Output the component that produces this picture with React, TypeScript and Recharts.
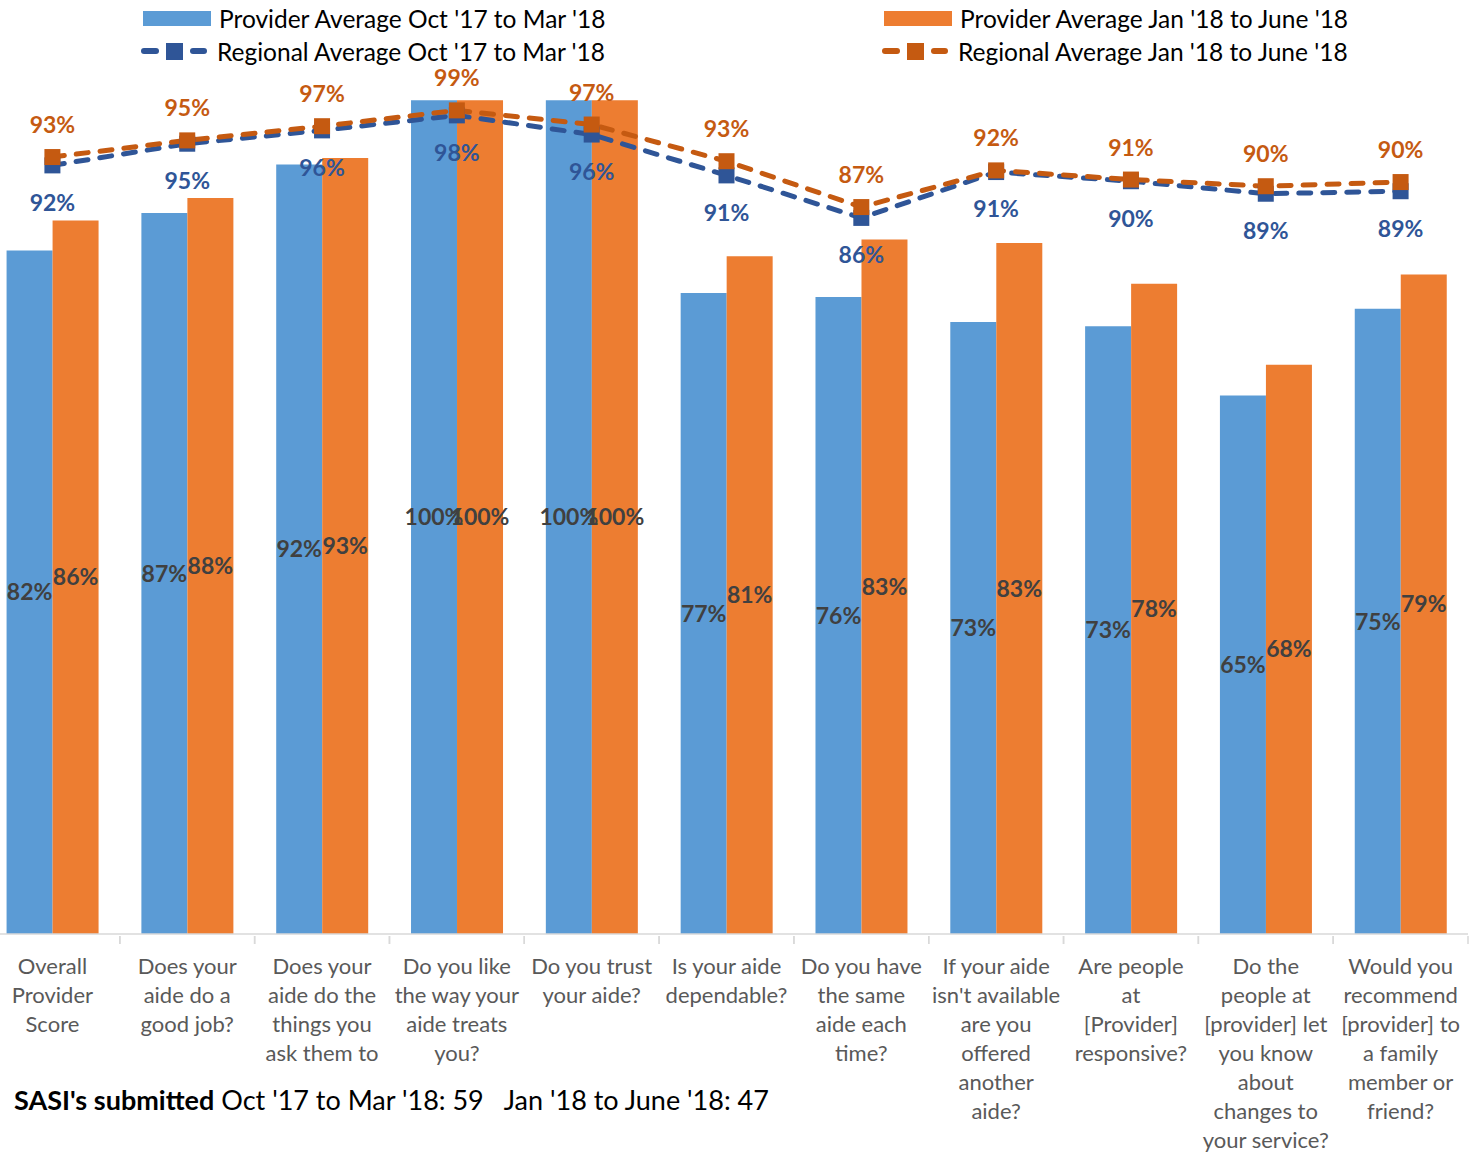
import React from "react";
import { ComposedChart, Bar, Line, XAxis, YAxis, LabelList } from "recharts";

const categories = [
  "Overall\nProvider\nScore",
  "Does your\naide do a\ngood job?",
  "Does your\naide do the\nthings you\nask them to",
  "Do you like\nthe way your\naide treats\nyou?",
  "Do you trust\nyour aide?",
  "Is your aide\ndependable?",
  "Do you have\nthe same\naide each\ntime?",
  "If your aide\nisn't available\nare you\noffered\nanother\naide?",
  "Are people\nat\n[Provider]\nresponsive?",
  "Do the\npeople at\n[provider] let\nyou know\nabout\nchanges to\nyour service?",
  "Would you\nrecommend\n[provider] to\na family\nmember or\nfriend?",
];

const providerOct = [82, 86.5, 92.3, 100, 100, 76.9, 76.4, 73.4, 72.9, 64.6, 75];
const providerJan = [85.6, 88.3, 93.1, 100, 100, 81.3, 83.3, 82.9, 78, 68.3, 79.1];
const regionalOct = [92.2, 94.8, 96.4, 98.2, 95.9, 91, 85.9, 91.4, 90.3, 88.8, 89.1];
const regionalJan = [93.2, 95.2, 96.9, 98.8, 97.1, 92.7, 87.2, 91.6, 90.5, 89.7, 90.2];

const data = categories.map((name, i) => ({
  name,
  providerOct: providerOct[i],
  providerJan: providerJan[i],
  regionalOct: regionalOct[i],
  regionalJan: regionalJan[i],
}));

const FONT = "Lato, 'Open Sans', sans-serif";
const BLUE = "#5B9BD5";
const ORANGE = "#ED7D31";
const DARK_BLUE = "#2F5597";
const DARK_ORANGE = "#C55A11";

const CHART_W = 1490;
const MARGIN = { top: 17, right: 7, bottom: 10, left: 0 };
const BAND = (CHART_W - MARGIN.left - MARGIN.right) / categories.length;

const pct = (v: any) => `${Math.round(Number(v))}%`;

const SquareDot = (props: any) => {
  const { cx, cy, fill } = props;
  if (cx == null || cy == null) return null;
  return <rect x={cx - 8} y={cy - 8} width={16} height={16} fill={fill} />;
};

const CategoryTick = (props: any) => {
  const { x, y, payload } = props;
  const lines = String(payload.value).split("\n");
  return (
    <g>
      <line x1={x - BAND / 2} x2={x - BAND / 2} y1={y} y2={y + 8} stroke="#D9D9D9" strokeWidth={1.5} />
      <line x1={x + BAND / 2} x2={x + BAND / 2} y1={y} y2={y + 8} stroke="#D9D9D9" strokeWidth={1.5} />
      <text x={x} y={y} textAnchor="middle" fill="#595959" fontSize={22} fontFamily={FONT}>
        {lines.map((l, i) => (
          <tspan key={i} x={x} dy={i === 0 ? 38 : 29}>
            {l}
          </tspan>
        ))}
      </text>
    </g>
  );
};

const LineIcon = ({ color }: { color: string }) => (
  <svg width={66} height={20} style={{ display: "block" }}>
    <line x1={3} x2={15} y1={10} y2={10} stroke={color} strokeWidth={6} strokeLinecap="round" />
    <rect x={25} y={2} width={17} height={17} fill={color} />
    <line x1={52} x2={63} y1={10} y2={10} stroke={color} strokeWidth={6} strokeLinecap="round" />
  </svg>
);

const legendItems = [
  { label: "Provider Average Oct '17 to Mar '18", kind: "bar", color: BLUE, left: 143, top: 4 },
  { label: "Regional Average Oct '17 to Mar '18", kind: "line", color: DARK_BLUE, left: 141, top: 37 },
  { label: "Provider Average Jan '18 to June '18", kind: "bar", color: ORANGE, left: 884, top: 4 },
  { label: "Regional Average Jan '18 to June '18", kind: "line", color: DARK_ORANGE, left: 882, top: 37 },
];

const barLabel = {
  position: "center" as const,
  formatter: pct,
  fill: "#404040",
  fontSize: 23,
  fontWeight: "bold",
  fontFamily: FONT,
};

export default function App() {
  return (
    <div
      style={{
        position: "absolute",
        left: 0,
        top: 0,
        width: 1474,
        height: 1164,
        overflow: "hidden",
        background: "#fff",
        fontFamily: FONT,
      }}
    >
      <div style={{ position: "absolute", left: -15, top: 0 }}>
        <ComposedChart
          width={CHART_W}
          height={1164}
          data={data}
          margin={MARGIN}
          barCategoryGap="16%"
          barGap={0}
        >
          <XAxis
            dataKey="name"
            interval={0}
            height={220}
            tickLine={false}
            tickSize={0}
            axisLine={{ stroke: "#D9D9D9", strokeWidth: 1.5 }}
            tick={<CategoryTick />}
          />
          <YAxis hide domain={[0, 110]} />
          <Bar dataKey="providerOct" fill={BLUE} isAnimationActive={false}>
            <LabelList dataKey="providerOct" {...barLabel} />
          </Bar>
          <Bar dataKey="providerJan" fill={ORANGE} isAnimationActive={false}>
            <LabelList dataKey="providerJan" {...barLabel} />
          </Bar>
          <Line
            dataKey="regionalOct"
            stroke={DARK_BLUE}
            strokeWidth={5}
            strokeDasharray="12 12"
            strokeLinecap="round"
            dot={<SquareDot fill={DARK_BLUE} />}
            activeDot={false}
            isAnimationActive={false}
          >
            <LabelList
              dataKey="regionalOct"
              position="bottom"
              offset={29}
              formatter={pct}
              fill={DARK_BLUE}
              fontSize={23}
              fontWeight="bold"
              fontFamily={FONT}
            />
          </Line>
          <Line
            dataKey="regionalJan"
            stroke={DARK_ORANGE}
            strokeWidth={5}
            strokeDasharray="12 12"
            strokeLinecap="round"
            dot={<SquareDot fill={DARK_ORANGE} />}
            activeDot={false}
            isAnimationActive={false}
          >
            <LabelList
              dataKey="regionalJan"
              position="top"
              offset={24}
              formatter={pct}
              fill={DARK_ORANGE}
              fontSize={23}
              fontWeight="bold"
              fontFamily={FONT}
            />
          </Line>
        </ComposedChart>
      </div>

      {legendItems.map((item) => (
        <div
          key={item.label}
          style={{
            position: "absolute",
            left: item.left,
            top: item.top,
            display: "flex",
            alignItems: "center",
            height: 28,
            fontSize: 24.5,
            color: "#000",
            whiteSpace: "nowrap",
          }}
        >
          {item.kind === "bar" ? (
            <div style={{ width: 68, height: 15, background: item.color, marginRight: 8 }} />
          ) : (
            <div style={{ marginRight: 10 }}>
              <LineIcon color={item.color} />
            </div>
          )}
          <span>{item.label}</span>
        </div>
      ))}

      <div style={{ position: "absolute", left: 14, top: 1083, fontSize: 27, color: "#000", whiteSpace: "pre" }}>
        <b>SASI's submitted</b>
        {" Oct '17 to Mar '18: 59   Jan '18 to June '18: 47"}
      </div>
    </div>
  );
}
